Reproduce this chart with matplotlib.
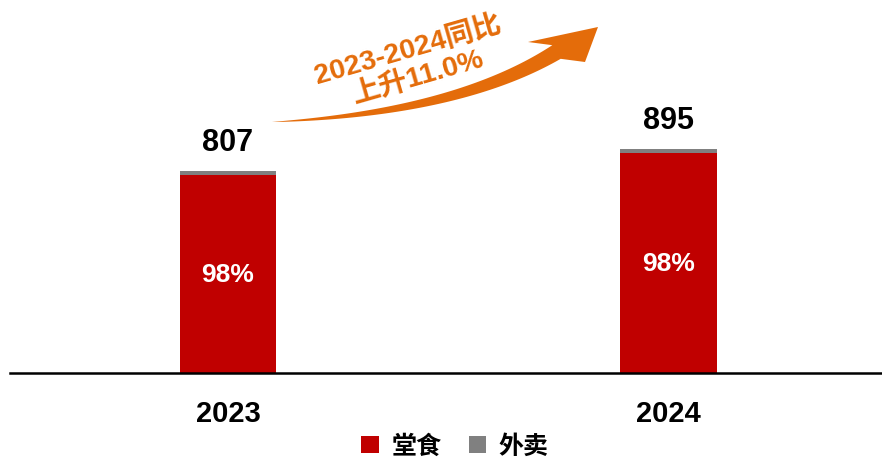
import numpy as np
import matplotlib.pyplot as plt
from matplotlib.patches import Polygon

plt.rcParams['font.family'] = ['Liberation Sans', 'Noto Sans CJK SC', 'DejaVu Sans']

# data
years = ['2023', '2024']
totals = [807, 895]
dine_in_share = [0.98, 0.98]
share_labels = ['98%', '98%']
growth_text = '2023-2024同比\n上升11.0%'
legend_names = ['堂食', '外卖']

red = '#C00000'
gray = '#808080'
orange = '#E46C0A'

totals = np.array(totals, dtype=float)
dine_in = totals * np.array(dine_in_share)
takeaway = totals - dine_in

W, H = 882, 464
fig = plt.figure(figsize=(W / 100, H / 100), dpi=100)
ax = fig.add_axes([10 / W, 90 / H, 872 / W, 374 / H])

x = np.arange(len(years))
b1 = ax.bar(x, dine_in, width=0.22, color=red, label=legend_names[0])
b2 = ax.bar(x, takeaway, width=0.22, bottom=dine_in, color=gray, label=legend_names[1])

ax.set_xlim(-0.4955, 1.486)
ax.set_ylim(0, 1494)

for i in range(len(years)):
    ax.text(x[i], totals[i] + 55, f'{int(totals[i])}', ha='center', va='bottom',
            fontsize=22, fontweight='bold', color='black')
    ax.text(x[i], dine_in[i] / 2, share_labels[i], ha='center', va='center',
            fontsize=19, fontweight='bold', color='white')

ax.set_xticks(x)
ax.set_xticklabels(years, fontsize=21, fontweight='bold')
ax.tick_params(axis='x', length=0, pad=19)
ax.set_yticks([])
for s in ['top', 'right', 'left']:
    ax.spines[s].set_visible(False)
ax.spines['bottom'].set_linewidth(1.8)
ax.spines['bottom'].set_color('black')

# curved growth arrow (pixel coords, top-left origin)
def to_fig(px, py):
    return np.column_stack([np.asarray(px) / W, 1 - np.asarray(py) / H])

p0 = np.array([272.0, 123.0])
p1 = np.array([457.0, 114.0])
p2 = np.array([556.5, 53.0])
t = np.linspace(0, 1, 80)
cx = (1 - t) ** 2 * p0[0] + 2 * t * (1 - t) * p1[0] + t ** 2 * p2[0]
cy = (1 - t) ** 2 * p0[1] + 2 * t * (1 - t) * p1[1] + t ** 2 * p2[1]
dx = 2 * (1 - t) * (p1[0] - p0[0]) + 2 * t * (p2[0] - p1[0])
dy = 2 * (1 - t) * (p1[1] - p0[1]) + 2 * t * (p2[1] - p1[1])
n = np.hypot(dx, dy)
nx, ny = -dy / n, dx / n
w = 16 * t ** 0.85 / 2
upper = np.column_stack([cx - nx * w, cy - ny * w])
lower = np.column_stack([cx + nx * w, cy + ny * w])
head = np.array([[528, 43], [598, 28], [585, 63]])
pts = np.vstack([upper, head, lower[::-1]])
fig.patches.append(Polygon(to_fig(pts[:, 0], pts[:, 1]), closed=True,
                           transform=fig.transFigure, facecolor=orange,
                           edgecolor='none'))

line1, line2 = growth_text.split('\n')
fig.text(408 / W, 1 - 50 / H, line1, ha='center', va='center', rotation=16,
         fontsize=20.5, fontweight='bold', color=orange, rotation_mode='anchor')
fig.text(418 / W, 1 - 77 / H, line2, ha='center', va='center', rotation=16,
         fontsize=20.5, fontweight='bold', color=orange, rotation_mode='anchor')

fig.legend(handles=[b1, b2], labels=legend_names, loc='center',
           bbox_to_anchor=(455 / W, 1 - 447 / H), ncol=2, frameon=False,
           handlelength=0.7, handleheight=0.7, handletextpad=0.5,
           columnspacing=1.1, prop={'family': ['Noto Sans CJK SC'],
                                    'size': 18, 'weight': 'bold'})

fig.savefig('out.png', dpi=100)
